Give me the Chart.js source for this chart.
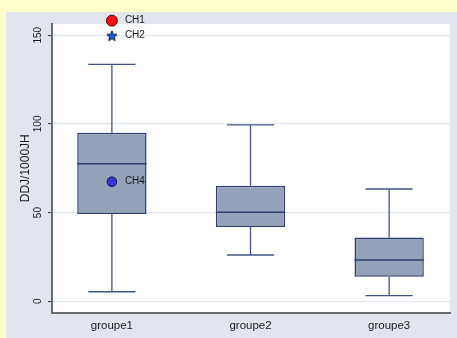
<!DOCTYPE html>
<html>
<head>
<meta charset="utf-8">
<title>DDJ/1000JH</title>
<script src="https://cdn.jsdelivr.net/npm/chart.js@4"></script>
<style>
  html, body { margin: 0; padding: 0; background: #ffffcc; width: 457px; height: 338px; overflow: hidden; }
  #panel { position: absolute; left: 6px; top: 12px; width: 451px; height: 326px; background: #e1e5ef; }
  canvas { display: block; }
</style>
</head>
<body>
<div id="panel"><canvas id="chart" width="451" height="326"></canvas></div>
<script>
// Box plot summary per group
const categories  = ['groupe1', 'groupe2', 'groupe3'];
const whiskerLow  = [5.4, 26.1, 3.2];
const quartile1   = [49.2, 41.9, 13.9];
const medians     = [77.6, 50.2, 23.3];
const quartile3   = [95.0, 65.2, 35.9];
const whiskerHigh = [133.6, 99.4, 63.3];

// Labelled outlying hospitals
const outlierNames  = ['CH1', 'CH2', 'CH4'];
const outlierGroup  = [1, 1, 1];
const outlierValues = [158.2, 149.7, 67.4];

const yTicks = [0, 50, 100, 150];

// Half widths in x units (one unit = distance between groups)
const BOX_HALF = 0.25;
const CAP_HALF = 0.17;

const BOX_FILL = '#95a1b9';
const BOX_LINE = '#2c3f6e';
const WHISKER_LINE = '#40568a';
const FONT = '"Liberation Sans", Arial, Helvetica, sans-serif';

// Five-pointed star marker
function makeStar(size) {
  const c = document.createElement('canvas');
  c.width = size; c.height = size;
  const g = c.getContext('2d');
  const cx = size / 2, cy = size / 2 + 0.5, R = size / 2 - 0.6, r = R * 0.45;
  g.beginPath();
  for (let k = 0; k < 10; k++) {
    const rad = k % 2 === 0 ? R : r;
    const a = -Math.PI / 2 + k * Math.PI / 5;
    const px = cx + rad * Math.cos(a), py = cy + rad * Math.sin(a);
    if (k === 0) g.moveTo(px, py); else g.lineTo(px, py);
  }
  g.closePath();
  g.fillStyle = '#1f5fd8';
  g.fill();
  g.lineWidth = 1;
  g.strokeStyle = '#0d1a40';
  g.stroke();
  return c;
}

// Whisker stems and caps as broken line segments
const whiskerPoints = [];
categories.forEach((_, i) => {
  const x = i + 1;
  whiskerPoints.push({x: x, y: quartile3[i]}, {x: x, y: whiskerHigh[i]}, {x: x, y: null});
  whiskerPoints.push({x: x - CAP_HALF, y: whiskerHigh[i]}, {x: x + CAP_HALF, y: whiskerHigh[i]}, {x: x, y: null});
  whiskerPoints.push({x: x, y: quartile1[i]}, {x: x, y: whiskerLow[i]}, {x: x, y: null});
  whiskerPoints.push({x: x - CAP_HALF, y: whiskerLow[i]}, {x: x + CAP_HALF, y: whiskerLow[i]}, {x: x, y: null});
});

const medianPoints = [];
categories.forEach((_, i) => {
  const x = i + 1;
  medianPoints.push({x: x - BOX_HALF, y: medians[i]}, {x: x + BOX_HALF, y: medians[i]}, {x: x, y: null});
});

const boxData = categories.map((_, i) => ({x: i + 1, y: [quartile1[i], quartile3[i]]}));
const outlierData = outlierNames.map((_, i) => ({x: outlierGroup[i], y: outlierValues[i]}));

const plotBackground = {
  id: 'plotBackground',
  beforeDraw(chart) {
    const {ctx, chartArea: a} = chart;
    ctx.save();
    ctx.fillStyle = '#ffffff';
    ctx.fillRect(a.left, a.top, a.right - a.left, a.bottom - a.top);
    ctx.restore();
  }
};

const outlierLabels = {
  id: 'outlierLabels',
  afterDatasetsDraw(chart) {
    const meta = chart.getDatasetMeta(3);
    const ctx = chart.ctx;
    ctx.save();
    ctx.font = '10px ' + FONT;
    ctx.fillStyle = '#1a1a1a';
    ctx.textAlign = 'left';
    ctx.textBaseline = 'middle';
    meta.data.forEach((el, i) => {
      ctx.fillText(outlierNames[i], el.x + 13, el.y);
    });
    ctx.restore();
  }
};

new Chart(document.getElementById('chart'), {
  type: 'bar',
  data: {
    datasets: [
      {
        type: 'line',
        data: whiskerPoints,
        borderColor: WHISKER_LINE,
        borderWidth: 1.3,
        pointRadius: 0,
        spanGaps: false,
        fill: false,
        order: 3
      },
      {
        type: 'bar',
        data: boxData,
        backgroundColor: BOX_FILL,
        borderColor: BOX_LINE,
        borderWidth: 1.5,
        borderSkipped: false,
        categoryPercentage: 2 * BOX_HALF,
        barPercentage: 1,
        order: 2
      },
      {
        type: 'line',
        data: medianPoints,
        borderColor: BOX_LINE,
        borderWidth: 1.5,
        pointRadius: 0,
        spanGaps: false,
        fill: false,
        order: 1
      },
      {
        type: 'scatter',
        data: outlierData,
        pointStyle: ['circle', makeStar(12), 'circle'],
        pointRadius: [5.5, 6, 4.8],
        backgroundColor: ['#ff1010', '#1f5fd8', '#3535d8'],
        borderColor: ['#4a0a0a', '#0d1a40', '#10104a'],
        borderWidth: 1,
        clip: false,
        order: 0
      }
    ]
  },
  options: {
    responsive: false,
    animation: false,
    devicePixelRatio: 1,
    layout: { padding: { top: 12, right: 6, left: 0, bottom: 0 } },
    plugins: { legend: { display: false }, tooltip: { enabled: false } },
    scales: {
      x: {
        type: 'linear',
        offset: false,
        min: 0.568,
        max: 3.439,
        afterBuildTicks(scale) { scale.ticks = categories.map((_, i) => ({value: i + 1})); },
        afterFit(scale) { scale.height = 25.5; },
        grid: { display: false, drawTicks: false, offset: false },
        border: { display: true, color: '#6b6b6b', width: 2 },
        ticks: {
          padding: 6.5,
          color: '#1a1a1a',
          font: { family: FONT, size: 11.5 },
          maxRotation: 0,
          autoSkip: false,
          callback: (v) => categories[v - 1]
        }
      },
      y: {
        type: 'linear',
        min: -6.3,
        max: 156.3,
        afterBuildTicks(scale) { scale.ticks = yTicks.map(v => ({value: v})); },
        afterFit(scale) { scale.width = 46; },
        grid: { color: '#e2e6ec', lineWidth: 1.2, tickLength: 4, tickColor: '#2a2a2a', tickWidth: 1 },
        border: { display: true, color: '#6b6b6b', width: 2 },
        ticks: {
          padding: 1,
          color: '#1a1a1a',
          font: { family: FONT, size: 10 },
          minRotation: 90,
          maxRotation: 90,
          crossAlign: 'center',
          callback: (v) => String(v)
        },
        title: {
          display: true,
          text: 'DDJ/1000JH',
          color: '#1a1a1a',
          font: { family: FONT, size: 12 },
          padding: { top: 12.3, bottom: 0 }
        }
      }
    }
  },
  plugins: [plotBackground, outlierLabels]
});
</script>
</body>
</html>
